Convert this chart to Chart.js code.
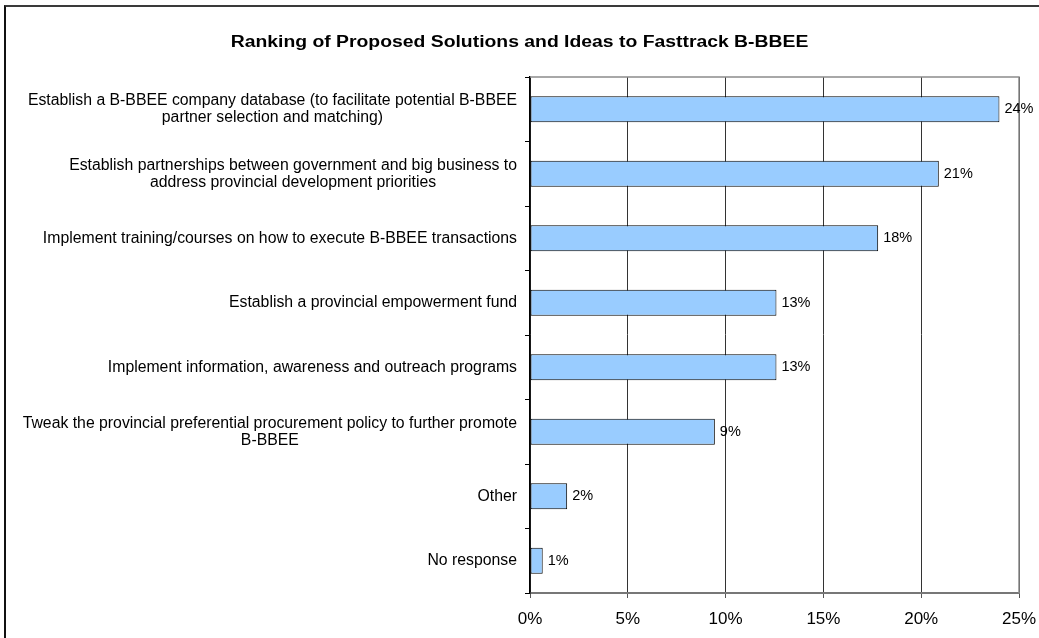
<!DOCTYPE html>
<html>
<head>
<meta charset="utf-8">
<script src="https://cdn.jsdelivr.net/npm/chart.js@4"></script>
<style>
  html, body { margin: 0; padding: 0; background: #fff; }
  #wrap { position: relative; width: 1039px; height: 638px; }
  #frame {
    position: absolute; left: 4px; top: 5px; right: -10px; bottom: -10px;
    border-top: 2px solid #3a3a3a; border-left: 2px solid #111;
    pointer-events: none;
  }
</style>
</head>
<body>
<div id="wrap">
  <canvas id="rankChart" width="1039" height="638"></canvas>
  <div id="frame"></div>
</div>
<script>
const chartTitle = 'Ranking of Proposed Solutions and Ideas to Fasttrack B-BBEE';

const solutions = [
    ['Establish a B-BBEE company database (to facilitate potential B-BBEE', 'partner selection and matching)'],
    ['Establish partnerships between government and big business to', 'address provincial development priorities'],
    ['Implement training/courses on how to execute B-BBEE transactions'],
    ['Establish a provincial empowerment fund'],
    ['Implement information, awareness and outreach programs'],
    ['Tweak the provincial preferential procurement policy to further promote', 'B-BBEE'],
    ['Other'],
    ['No response']
];

// share of respondents, percent
const shares = [24.0, 20.9, 17.8, 12.6, 12.6, 9.45, 1.9, 0.65];

const xTicks = [0, 5, 10, 15, 20, 25];

const FONT = 'Arial, "Liberation Sans", sans-serif';

// wide bold heading, centred over the whole canvas
const heading = {
    id: 'heading',
    afterDraw(chart) {
        const ctx = chart.ctx;
        ctx.save();
        ctx.font = 'bold 16px ' + FONT;
        ctx.fillStyle = '#000';
        ctx.textAlign = 'center';
        ctx.textBaseline = 'middle';
        ctx.translate(chart.width / 2, 43);
        ctx.scale(1.21, 1);
        ctx.fillText(chartTitle, 0, 0);
        ctx.restore();
    }
};

// category labels: each block right-aligned, lines centred within the block
const categoryLabels = {
    id: 'categoryLabels',
    afterDraw(chart) {
        const ctx = chart.ctx;
        const yScale = chart.scales.y;
        const right = chart.chartArea.left - 13;
        const lineH = 17;
        ctx.save();
        ctx.font = '15.8px ' + FONT;
        ctx.fillStyle = '#000';
        ctx.textAlign = 'center';
        ctx.textBaseline = 'middle';
        solutions.forEach((lines, i) => {
            const cy = yScale.getPixelForValue(i);
            const widest = Math.max(...lines.map(l => ctx.measureText(l).width));
            const cx = right - widest / 2;
            const y0 = cy - (lines.length - 1) * lineH / 2;
            lines.forEach((l, j) => ctx.fillText(l, cx, y0 + j * lineH));
        });
        ctx.restore();
    }
};

// percentage next to each bar end, plus the grey frame on top and right
const barValues = {
    id: 'barValues',
    afterDatasetsDraw(chart) {
        const ctx = chart.ctx;
        const area = chart.chartArea;
        ctx.save();
        ctx.strokeStyle = '#8c8c8c';
        ctx.lineWidth = 1.5;
        ctx.beginPath();
        ctx.moveTo(area.left, area.top);
        ctx.lineTo(area.right, area.top);
        ctx.lineTo(area.right, area.bottom);
        ctx.stroke();

        ctx.font = '14.5px ' + FONT;
        ctx.fillStyle = '#000';
        ctx.textAlign = 'left';
        ctx.textBaseline = 'middle';
        chart.getDatasetMeta(0).data.forEach((bar, i) => {
            ctx.fillText(Math.round(shares[i]) + '%', bar.x + 5, bar.y);
        });
        ctx.restore();
    }
};

const ctx = document.getElementById('rankChart').getContext('2d');
new Chart(ctx, {
    type: 'bar',
    data: {
        labels: solutions,
        datasets: [{
            data: shares,
            backgroundColor: '#99ccff',
            borderColor: '#000',
            borderWidth: 1,
            borderSkipped: false,
            categoryPercentage: 1,
            barPercentage: 0.4
        }]
    },
    options: {
        indexAxis: 'y',
        responsive: false,
        animation: false,
        layout: { padding: { left: 0, right: 20, top: 77, bottom: 0 } },
        scales: {
            x: {
                min: 0,
                max: 25,
                afterBuildTicks: s => { s.ticks = xTicks.map(v => ({ value: v })); },
                afterFit: s => { s.height = 45; s.paddingLeft = 0; s.paddingRight = 0; },
                ticks: {
                    color: '#000',
                    font: { family: FONT, size: 17 },
                    padding: 11,
                    maxRotation: 0,
                    callback: v => v + '%'
                },
                grid: { color: '#333', lineWidth: 1, tickLength: 5, tickColor: '#555' },
                border: { color: '#777', width: 2 }
            },
            y: {
                offset: true,
                afterFit: s => { s.width = 530; },
                ticks: { display: false },
                grid: {
                    offset: true,
                    drawOnChartArea: false,
                    tickLength: 5,
                    color: '#000'
                },
                border: { color: '#000', width: 1.5 }
            }
        },
        plugins: {
            legend: { display: false },
            tooltip: { enabled: false },
            title: { display: false }
        }
    },
    plugins: [heading, categoryLabels, barValues]
});
</script>
</body>
</html>
